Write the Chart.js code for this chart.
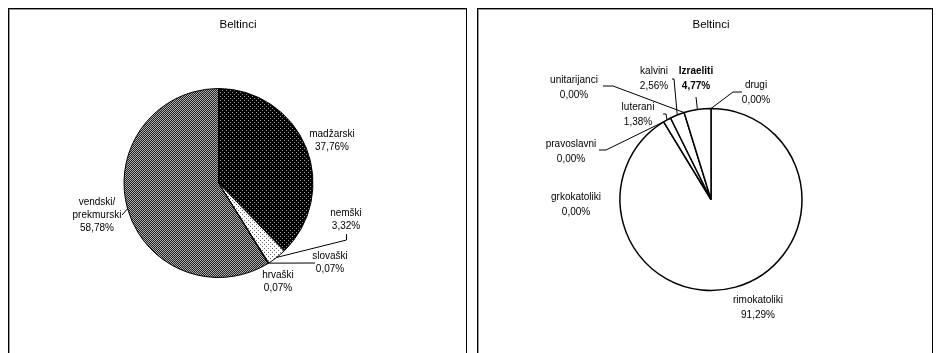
<!DOCTYPE html>
<html>
<head>
<meta charset="utf-8">
<script src="https://cdn.jsdelivr.net/npm/chart.js@4/dist/chart.umd.min.js"></script>
<style>
  body { margin: 0; width: 936px; height: 353px; background: #fff; overflow: hidden; position: relative; }
  .panel { position: absolute; top: 8px; height: 360px; border: 1px solid #000; box-shadow: inset 1px 1px 0 #999; box-sizing: border-box; }
  canvas { position: absolute; }
</style>
</head>
<body>
<div class="panel" style="left:8px; width:459px;"></div>
<div class="panel" style="left:477px; width:456px;"></div>
<canvas id="jezik" width="458" height="345" style="left:8px; top:8px;"></canvas>
<canvas id="vera" width="455" height="345" style="left:477px; top:8px;"></canvas>
<script>
// data: Beltinci - language and religion shares (%)
const jezikLabels = ['madžarski', 'nemški', 'slovaški', 'hrvaški', 'vendski/\nprekmurski'];
const jezikValues = [37.76, 3.32, 0.07, 0.07, 58.78];

const veraLabels = ['rimokatoliki', 'grkokatoliki', 'pravoslavni', 'luterani', 'kalvini', 'unitarijanci', 'Izraeliti', 'drugi'];
const veraValues = [91.29, 0.00, 0.00, 1.38, 2.56, 0.00, 4.77, 0.00];

const chartTitle = 'Beltinci';

function pct (v) {
    return v.toFixed(2).replace('.', ',') + '%';
}

// small fill patterns like the old excel ones
function makePattern (size, bg, fg, dots) {
    const c = document.createElement('canvas');
    c.width = size; c.height = size;
    const x = c.getContext('2d');
    x.fillStyle = bg;
    x.fillRect(0, 0, size, size);
    x.fillStyle = fg;
    dots.forEach(d => x.fillRect(d[0], d[1], 1, 1));
    return x.createPattern(c, 'repeat');
}

const darkDots = makePattern(4, '#000', '#9a9a9a', [[0, 0], [2, 2]]);
const lightDots = makePattern(4, '#fff', '#666', [[0, 0], [2, 2]]);
const grayWeave = makePattern(4, '#262626', '#a8a8a8', [[0, 0], [2, 0], [1, 1], [3, 1], [0, 2], [3, 3], [1, 3], [2, 2]]);

// labels + leader lines, positions relative to the pie centre
const pieLabels = {
    id: 'pieLabels',
    afterDraw (chart, args, opts) {
        const ctx = chart.ctx;
        const arcs = chart.getDatasetMeta(0).data;
        const labels = chart.data.labels;
        const values = chart.data.datasets[0].data;
        ctx.save();
        ctx.fillStyle = '#000';
        ctx.textAlign = 'center';
        ctx.textBaseline = 'middle';
        ctx.font = '11.5px "Liberation Sans", Arial, sans-serif';
        ctx.fillText(chartTitle, opts.titleX, opts.titleY);

        opts.items.forEach(item => {
            const arc = arcs[item.i];
            const p = arc.getProps(['x', 'y', 'startAngle', 'endAngle', 'outerRadius'], true);
            const cx = p.x, cy = p.y;
            if (item.leader) {
                const mid = (p.startAngle + p.endAngle) / 2;
                ctx.strokeStyle = '#000';
                ctx.lineWidth = 1;
                ctx.beginPath();
                item.leader.forEach((pt, k) => {
                    if (k === 0) ctx.moveTo(cx + pt[0], cy + pt[1]);
                    else ctx.lineTo(cx + pt[0], cy + pt[1]);
                });
                ctx.lineTo(cx + p.outerRadius * Math.cos(mid), cy + p.outerRadius * Math.sin(mid));
                ctx.stroke();
            }
            const lines = labels[item.i].split('\n');
            lines.push(pct(values[item.i]));
            ctx.font = (item.bold ? 'bold ' : '') + '10px "Liberation Sans", Arial, sans-serif';
            lines.forEach((t, k) => {
                ctx.fillText(t, cx + item.dx, cy + item.dy + k * opts.lineHeight);
            });
        });
        ctx.restore();
    }
};

function renderPie (id, labels, values, colors, border, radius, pad, labelOpts) {
    const ctx = document.getElementById(id).getContext('2d');
    return new Chart(ctx, {
        type: 'pie',
        data: {
            labels: labels,
            datasets: [{
                data: values,
                backgroundColor: colors,
                borderColor: '#000',
                borderWidth: border,
            }]
        },
        options: {
            responsive: false,
            animation: false,
            radius: radius,
            layout: { padding: pad },
            plugins: {
                legend: { display: false },
                tooltip: { enabled: false },
                pieLabels: labelOpts
            }
        },
        plugins: [pieLabels]
    });
}

renderPie('jezik', jezikLabels, jezikValues,
    [darkDots, lightDots, '#fff', '#fff', grayWeave], 1, 94.5,
    { left: 110.5, top: 75, right: 147.5, bottom: 70 },
    {
        titleX: 230, titleY: 17, lineHeight: 13,
        items: [
            { i: 0, dx: 113.5, dy: -49 },
            { i: 1, dx: 127.5, dy: 30, leader: [[128, 51], [128, 57]] },
            { i: 2, dx: 111.5, dy: 73, leader: [[96.5, 80]] },
            { i: 3, dx: 59.5, dy: 92 },
            { i: 4, dx: -121.5, dy: 19, leader: [[-96.5, 32]] }
        ]
    });

renderPie('vera', veraLabels, veraValues,
    ['#fff', '#fff', '#fff', '#fff', '#fff', '#fff', '#fff', '#fff'], 1.5, 91,
    { left: 134, top: 91.5, right: 121, bottom: 53.5 },
    {
        titleX: 234, titleY: 17, lineHeight: 15.5,
        items: [
            { i: 0, dx: 47, dy: 100.5 },
            { i: 1, dx: -135, dy: -2.5 },
            { i: 2, dx: -140, dy: -55.5, leader: [[-112, -49.5], [-105, -49.5]] },
            { i: 3, dx: -73, dy: -92.5, leader: [[-48, -85.5], [-45, -85.5]] },
            { i: 4, dx: -57, dy: -128.5, leader: [[-39, -120.5], [-37, -120.5]] },
            { i: 5, dx: -137, dy: -119.5, leader: [[-108, -113.5], [-98, -113.5]] },
            { i: 6, dx: -15, dy: -128.5, bold: true, leader: [[-15, -102.5]] },
            { i: 7, dx: 45, dy: -114.5, leader: [[31, -107.5], [22, -107.5]] }
        ]
    });
</script>
</body>
</html>
